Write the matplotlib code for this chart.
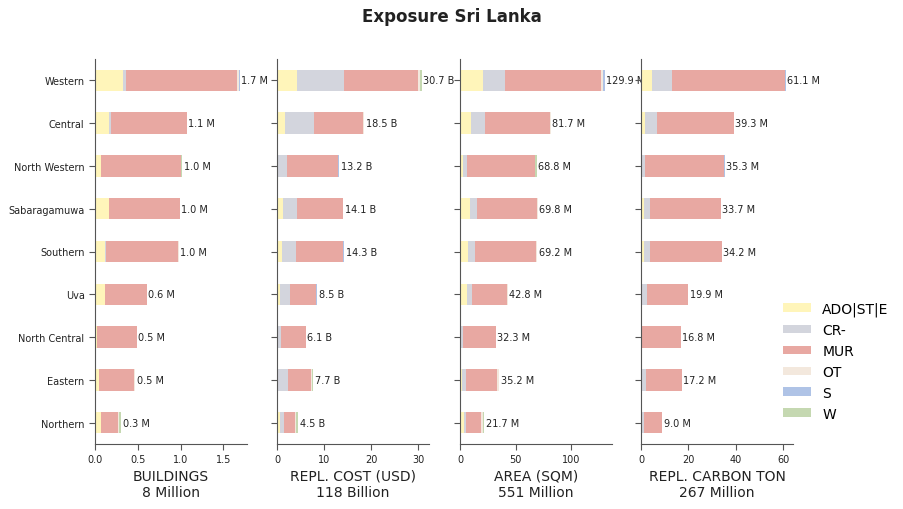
import matplotlib
matplotlib.use("Agg")
import matplotlib.pyplot as plt
from matplotlib.patches import Patch
import numpy as np

regions = ["Western", "Central", "North Western", "Sabaragamuwa", "Southern",
           "Uva", "North Central", "Eastern", "Northern"]
classes = ["ADO|ST|E", "CR-", "MUR", "OT", "S", "W"]
colors = ["#FFF5BA", "#D3D5DD", "#E8A8A2", "#F3E8DD", "#AFC3E6", "#C5D8B1"]

# BUILDINGS (million)
bld_ado = [0.33, 0.16, 0.066, 0.16, 0.12, 0.113, 0.027, 0.043, 0.066]
bld_cr  = [0.03, 0.023, 0.0, 0.008, 0.012, 0.008, 0.0, 0.0, 0.008]
bld_mur = [1.30, 0.89, 0.938, 0.82, 0.836, 0.485, 0.46, 0.414, 0.19]
bld_ot  = [0.02, 0.0, 0.0, 0.0, 0.012, 0.0, 0.0, 0.007, 0.02]
bld_s   = [0.01, 0.0, 0.0, 0.0, 0.0, 0.0, 0.0, 0.0, 0.0]
bld_w   = [0.0, 0.0, 0.016, 0.0, 0.0, 0.0, 0.0, 0.007, 0.023]

# REPL. COST (billion USD)
cost_ado = [4.3, 1.77, 0.3, 1.35, 1.13, 0.7, 0.05, 0.28, 0.7]
cost_cr  = [10.0, 6.0, 1.8, 2.98, 2.98, 2.13, 0.7, 2.13, 0.85]
cost_mur = [15.7, 10.53, 10.8, 9.57, 9.79, 5.47, 5.35, 4.89, 2.35]
cost_ot  = [0.3, 0.2, 0.0, 0.2, 0.0, 0.0, 0.0, 0.2, 0.2]
cost_s   = [0.1, 0.0, 0.3, 0.0, 0.4, 0.2, 0.0, 0.0, 0.0]
cost_w   = [0.3, 0.0, 0.0, 0.0, 0.0, 0.0, 0.0, 0.2, 0.4]

# AREA (million sqm)
area_ado = [21.0, 10.2, 2.7, 9.3, 7.5, 6.6, 1.2, 2.1, 3.9]
area_cr  = [19.8, 11.8, 3.9, 6.3, 6.3, 4.5, 1.8, 3.6, 1.8]
area_mur = [85.6, 58.8, 60.3, 53.3, 54.5, 31.5, 29.3, 27.6, 13.2]
area_ot  = [1.5, 0.9, 0.8, 0.9, 0.9, 0.2, 0.0, 1.9, 1.8]
area_s   = [2.0, 0.0, 0.0, 0.0, 0.0, 0.0, 0.0, 0.0, 0.0]
area_w   = [0.0, 0.0, 1.1, 0.0, 0.0, 0.0, 0.0, 0.0, 1.0]

# REPL. CARBON (million ton)
carb_ado = [4.7, 1.7, 0.2, 1.3, 1.3, 0.4, 0.1, 0.1, 0.4]
carb_cr  = [8.5, 5.1, 1.7, 2.5, 2.5, 2.1, 0.4, 2.1, 0.8]
carb_mur = [47.64, 32.5, 33.0, 29.9, 30.4, 17.4, 16.3, 15.0, 7.5]
carb_ot  = [0.0, 0.0, 0.0, 0.0, 0.0, 0.0, 0.0, 0.0, 0.0]
carb_s   = [0.3, 0.0, 0.4, 0.0, 0.0, 0.0, 0.0, 0.0, 0.0]
carb_w   = [0.0, 0.0, 0.0, 0.0, 0.0, 0.0, 0.0, 0.0, 0.3]

panels = [
    ("BUILDINGS", "Million", "M", [bld_ado, bld_cr, bld_mur, bld_ot, bld_s, bld_w], [0, 0.5, 1.0, 1.5], True),
    ("REPL. COST (USD)", "Billion", "B", [cost_ado, cost_cr, cost_mur, cost_ot, cost_s, cost_w], [0, 10, 20, 30], False),
    ("AREA (SQM)", "Million", "M", [area_ado, area_cr, area_mur, area_ot, area_s, area_w], [0, 50, 100], False),
    ("REPL. CARBON TON", "Million", "M", [carb_ado, carb_cr, carb_mur, carb_ot, carb_s, carb_w], [0, 20, 40, 60], False),
]

fig = plt.figure(figsize=(9.04, 5.10), dpi=100)
fig.suptitle("Exposure Sri Lanka", fontsize=12, fontweight="bold", y=0.985, color="#222222")

lefts = [95, 277, 460, 641]
width = 152
W, H = 904, 510
ytop, ybot = 60, 445
y = np.arange(len(regions))
edge = "#555555"
txt = "#222222"

for i, (name, unit, suf, series, ticks, decimal) in enumerate(panels):
    ax = fig.add_axes([lefts[i] / W, 1 - ybot / H, width / W, (ybot - ytop) / H])
    left = np.zeros(len(regions))
    for vals, c in zip(series, colors):
        v = np.array(vals)
        ax.barh(y, v, left=left, height=0.5, color=c, linewidth=0)
        left += v
    totals = left
    for yy, t in zip(y, totals):
        ax.text(t + totals.max() * 0.01, yy, f"{t:.1f} {suf}", va="center", ha="left",
                fontsize=7, color=txt, clip_on=False)
    ax.set_ylim(len(regions) - 0.5, -0.5)
    ax.set_xlim(0, totals.max() * 1.05)
    ax.set_xticks(ticks)
    ax.set_xticklabels([f"{t:.1f}" if decimal else f"{t:.0f}" for t in ticks])
    ax.set_yticks(y)
    if i == 0:
        ax.set_yticklabels(regions, fontsize=7)
    else:
        ax.set_yticklabels([])
    ax.tick_params(axis="x", labelsize=7, colors=edge, labelcolor=txt, length=4)
    ax.tick_params(axis="y", colors=edge, labelcolor=txt, length=4)
    for s in ["top", "right"]:
        ax.spines[s].set_visible(False)
    for s in ["left", "bottom"]:
        ax.spines[s].set_color(edge)
    ax.set_xlabel(f"{name}\n{totals.sum():.0f} {unit}", fontsize=10, color=txt, labelpad=3)

handles = [Patch(facecolor=c, edgecolor="none", label=l) for c, l in zip(colors, classes)]
fig.legend(handles=handles, loc="upper left", bbox_to_anchor=(771 / W, 1 - 290 / H),
           frameon=False, fontsize=10, handlelength=2.0, handleheight=0.6,
           labelspacing=0.5, handletextpad=0.8)

fig.savefig("out.png", dpi=100)
